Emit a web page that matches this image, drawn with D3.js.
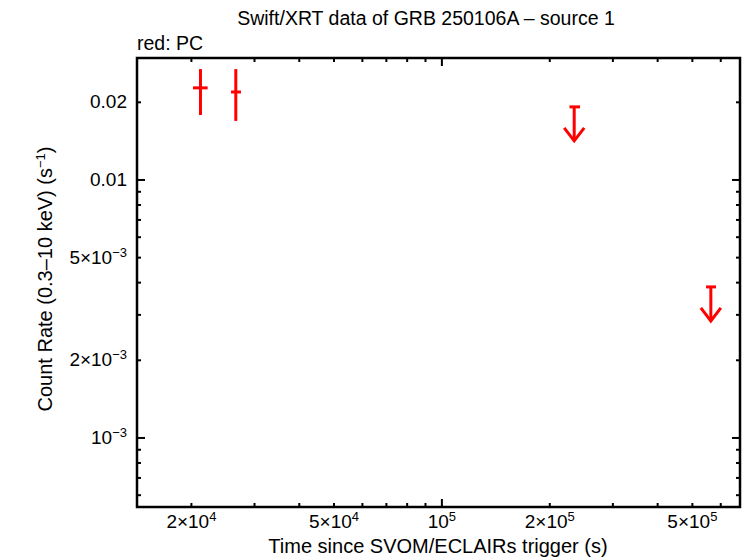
<!DOCTYPE html>
<html>
<head>
<meta charset="utf-8">
<script src="https://cdn.jsdelivr.net/npm/d3@7"></script>
<style>
  body { margin: 0; background: #fff; }
  svg text { font-family: "Liberation Sans", Arial, sans-serif; fill: #000; }
</style>
</head>
<body>
<div id="chart"></div>
<script>
// PC mode detections
const pcTime = [2.12e4, 2.66e4];
const pcTimeLo = [2.02e4, 2.58e4];
const pcTimeHi = [2.22e4, 2.75e4];
const pcRate = [0.02275, 0.02193];
const pcRateLo = [0.01786, 0.01694];
const pcRateHi = [0.0269, 0.0269];

// PC mode upper limits
const ulTime = [2.34e5, 5.63e5];
const ulTimeLo = [2.27e5, 5.46e5];
const ulTimeHi = [2.43e5, 5.82e5];
const ulRate = [0.0192, 0.00385];

// tick labels: value, mantissa, exponent
const xTickValues = [2e4, 5e4, 1e5, 2e5, 5e5];
const xTickMant = ["2×10", "5×10", "10", "2×10", "5×10"];
const xTickExp = ["4", "4", "5", "5", "5"];

const yTickValues = [0.02, 0.01, 5e-3, 2e-3, 1e-3];
const yTickMant = ["0.02", "0.01", "5×10", "2×10", "10"];
const yTickExp = ["", "", "−3", "−3", "−3"];

const W = 746, H = 558;
const margin = { top: 58, right: 6, bottom: 51, left: 137 };
const width = W - margin.left - margin.right;
const height = H - margin.top - margin.bottom;

const svg = d3.select("#chart")
    .append("svg")
    .attr("width", W)
    .attr("height", H);

// Scales
const xScale = d3.scaleLog()
    .domain([1.41e4, 6.79e5])
    .range([0, width]);

const yScale = d3.scaleLog()
    .domain([5.4e-4, 0.0297])
    .range([height, 0]);

const g = svg.append("g")
    .attr("transform", `translate(${margin.left},${margin.top})`);

// Tick marks on all four sides
function logTicks(domain) {
    const out = [];
    const lo = Math.floor(Math.log10(domain[0]));
    const hi = Math.ceil(Math.log10(domain[1]));
    for (let e = lo; e <= hi; e++) {
        for (let k = 1; k < 10; k++) {
            const v = k * Math.pow(10, e);
            if (v >= domain[0] && v <= domain[1]) out.push({ v, major: k === 1 });
        }
    }
    return out;
}

const major = 8, minor = 4;
logTicks(xScale.domain()).forEach(t => {
    const x = xScale(t.v);
    const len = t.major ? major : minor;
    g.append("line").attr("x1", x).attr("x2", x).attr("y1", height).attr("y2", height - len)
        .attr("stroke", "#000").attr("stroke-width", 2);
    g.append("line").attr("x1", x).attr("x2", x).attr("y1", 0).attr("y2", len)
        .attr("stroke", "#000").attr("stroke-width", 2);
});
logTicks(yScale.domain()).forEach(t => {
    const y = yScale(t.v);
    const len = t.major ? major : minor;
    g.append("line").attr("x1", 0).attr("x2", len).attr("y1", y).attr("y2", y)
        .attr("stroke", "#000").attr("stroke-width", 2);
    g.append("line").attr("x1", width).attr("x2", width - len).attr("y1", y).attr("y2", y)
        .attr("stroke", "#000").attr("stroke-width", 2);
});

// Frame
g.append("rect")
    .attr("width", width)
    .attr("height", height)
    .attr("fill", "none")
    .attr("stroke", "#000")
    .attr("stroke-width", 2.5);

// X tick labels
xTickValues.forEach((v, i) => {
    const t = g.append("text")
        .attr("x", xScale(v))
        .attr("y", height + 21)
        .attr("text-anchor", "middle")
        .attr("font-size", "19px");
    t.append("tspan").text(xTickMant[i]);
    t.append("tspan").attr("dy", -7).attr("font-size", "13px").text(xTickExp[i]);
});

// Y tick labels
yTickValues.forEach((v, i) => {
    const t = g.append("text")
        .attr("x", -10)
        .attr("y", yScale(v) + 6)
        .attr("text-anchor", "end")
        .attr("font-size", "19px");
    t.append("tspan").text(yTickMant[i]);
    if (yTickExp[i]) t.append("tspan").attr("dy", -7).attr("font-size", "13px").text(yTickExp[i]);
});

// Detections: error crosses
const red = "#ff0000";
pcTime.forEach((tm, i) => {
    g.append("line")
        .attr("x1", xScale(pcTimeLo[i])).attr("x2", xScale(pcTimeHi[i]))
        .attr("y1", yScale(pcRate[i])).attr("y2", yScale(pcRate[i]))
        .attr("stroke", red).attr("stroke-width", 3);
    g.append("line")
        .attr("x1", xScale(tm)).attr("x2", xScale(tm))
        .attr("y1", yScale(pcRateLo[i])).attr("y2", yScale(pcRateHi[i]))
        .attr("stroke", red).attr("stroke-width", 3);
});

// Upper limits: cap + downward arrow
const arrowLen = 34, headLen = 13, headHalf = 10;
ulTime.forEach((tm, i) => {
    const x = xScale(tm), y = yScale(ulRate[i]);
    g.append("line")
        .attr("x1", xScale(ulTimeLo[i])).attr("x2", xScale(ulTimeHi[i]))
        .attr("y1", y).attr("y2", y)
        .attr("stroke", red).attr("stroke-width", 3);
    g.append("line")
        .attr("x1", x).attr("x2", x).attr("y1", y).attr("y2", y + arrowLen)
        .attr("stroke", red).attr("stroke-width", 3);
    g.append("path")
        .attr("d", `M${x - headHalf},${y + arrowLen - headLen}L${x},${y + arrowLen}L${x + headHalf},${y + arrowLen - headLen}`)
        .attr("fill", "none").attr("stroke", red).attr("stroke-width", 3);
});

// Titles
svg.append("text")
    .attr("x", 426)
    .attr("y", 25)
    .attr("text-anchor", "middle")
    .attr("font-size", "19.5px")
    .text("Swift/XRT data of GRB 250106A – source 1");

svg.append("text")
    .attr("x", 137)
    .attr("y", 50)
    .attr("font-size", "19.5px")
    .text("red: PC");

svg.append("text")
    .attr("x", 438)
    .attr("y", 553)
    .attr("text-anchor", "middle")
    .attr("font-size", "20px")
    .text("Time since SVOM/ECLAIRs trigger (s)");

const yl = svg.append("text")
    .attr("transform", "translate(52,279) rotate(-90)")
    .attr("text-anchor", "middle")
    .attr("font-size", "20px");
yl.append("tspan").text("Count Rate (0.3–10 keV) (s");
yl.append("tspan").attr("dy", -7).attr("font-size", "13px").text("−1");
yl.append("tspan").attr("dy", 7).text(")");
</script>
</body>
</html>
